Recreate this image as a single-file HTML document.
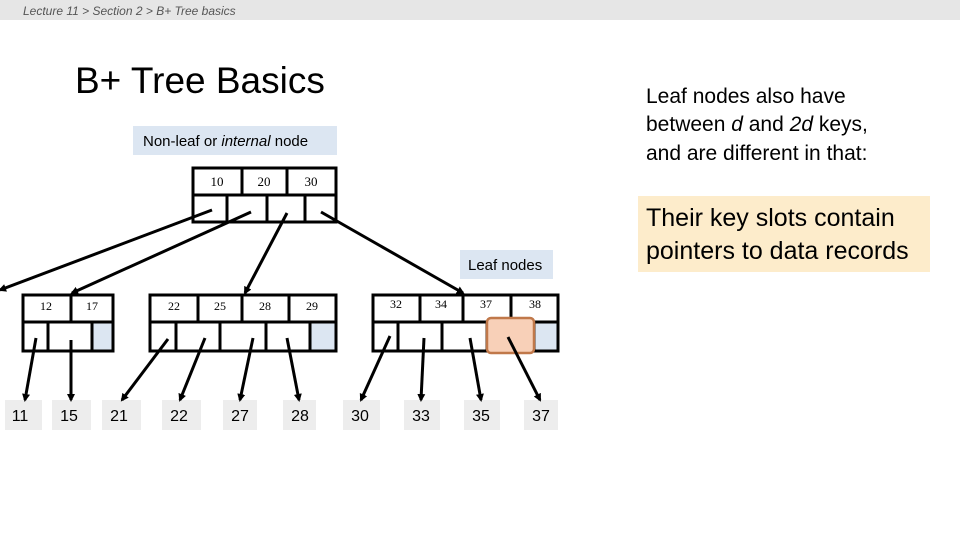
<!DOCTYPE html>
<html><head><meta charset="utf-8"><style>
body{margin:0;width:960px;height:540px;background:#fff;overflow:hidden;font-family:"Liberation Sans",sans-serif}
</style></head><body>
<svg width="960" height="540" xmlns="http://www.w3.org/2000/svg" style="position:absolute;left:0;top:0">
<defs><marker id="a" markerWidth="8" markerHeight="8" refX="6" refY="4" orient="auto" markerUnits="userSpaceOnUse"><path d="M0,0 L8,4 L0,8 z" fill="#000"/></marker></defs>
<rect x="0" y="0" width="960" height="20" fill="#e6e6e6"/>
<text x="23" y="15" font-size="12" font-style="italic" fill="#555" font-family="Liberation Sans">Lecture 11 &gt; Section 2 &gt; B+ Tree basics</text>
<text x="75" y="93" font-size="37" fill="#000">B+ Tree Basics</text>
<rect x="133" y="126" width="204" height="29" fill="#dce6f2"/>
<text x="143" y="146" font-size="15">Non-leaf or <tspan font-style="italic">internal</tspan> node</text>
<rect x="460" y="250" width="93" height="29" fill="#dce6f2"/>
<text x="468" y="270" font-size="15">Leaf nodes</text>
<text font-size="21" fill="#000"><tspan x="646" y="103">Leaf nodes also have</tspan><tspan x="646" y="131">between <tspan font-style="italic">d</tspan> and <tspan font-style="italic">2d</tspan> keys,</tspan><tspan x="646" y="160">and are different in that:</tspan></text>
<rect x="638" y="196" width="292" height="76" fill="#fdeccb"/>
<text font-size="25" fill="#000"><tspan x="646" y="226">Their key slots contain</tspan><tspan x="646" y="259">pointers to data records</tspan></text>
<g stroke="#000" stroke-width="3" fill="#fff">
<rect x="193" y="168" width="143" height="54"/>
<line x1="193" y1="195" x2="336" y2="195"/>
<line x1="242" y1="168" x2="242" y2="195"/><line x1="287" y1="168" x2="287" y2="195"/>
<line x1="227" y1="195" x2="227" y2="222"/><line x1="267" y1="195" x2="267" y2="222"/><line x1="305" y1="195" x2="305" y2="222"/>
</g>
<g font-family="Liberation Serif" font-size="13" text-anchor="middle"><text x="217" y="186">10</text><text x="264" y="186">20</text><text x="311" y="186">30</text></g>
<g stroke="#000" stroke-width="3" fill="#fff">
<rect x="23" y="295" width="90" height="56"/>
<rect x="92" y="322" width="21" height="29" fill="#dce6f2"/>
<line x1="23" y1="322" x2="113" y2="322"/><line x1="71" y1="295" x2="71" y2="322"/>
<line x1="48" y1="322" x2="48" y2="351"/>
<rect x="150" y="295" width="186" height="56"/>
<rect x="310" y="322" width="26" height="29" fill="#dce6f2"/>
<line x1="150" y1="322" x2="336" y2="322"/>
<line x1="198" y1="295" x2="198" y2="322"/><line x1="242" y1="295" x2="242" y2="322"/><line x1="289" y1="295" x2="289" y2="322"/>
<line x1="176" y1="322" x2="176" y2="351"/><line x1="220" y1="322" x2="220" y2="351"/><line x1="266" y1="322" x2="266" y2="351"/>
<rect x="373" y="295" width="185" height="56"/>
<rect x="534" y="322" width="24" height="29" fill="#dce6f2"/>
<line x1="373" y1="322" x2="558" y2="322"/>
<line x1="420" y1="295" x2="420" y2="322"/><line x1="463" y1="295" x2="463" y2="322"/><line x1="511" y1="295" x2="511" y2="322"/>
<line x1="398" y1="322" x2="398" y2="351"/><line x1="442" y1="322" x2="442" y2="351"/><line x1="487" y1="322" x2="487" y2="351"/>
</g>
<rect x="487" y="318" width="47" height="35" rx="4" fill="#f8d0b8" stroke="#c0784a" stroke-width="2.5"/>
<g font-family="Liberation Serif" font-size="12" text-anchor="middle">
<text x="46" y="310">12</text><text x="92" y="310">17</text>
<text x="174" y="310">22</text><text x="220" y="310">25</text><text x="265" y="310">28</text><text x="312" y="310">29</text>
<text x="396" y="308">32</text><text x="441" y="308">34</text><text x="486" y="308">37</text><text x="535" y="308">38</text>
</g>
<g fill="#ededed">
<rect x="5" y="400" width="37" height="30"/><rect x="52" y="400" width="39" height="30"/><rect x="102" y="400" width="39" height="30"/>
<rect x="162" y="400" width="39" height="30"/><rect x="223" y="400" width="34" height="30"/><rect x="283" y="400" width="33" height="30"/>
<rect x="343" y="400" width="37" height="30"/><rect x="404" y="400" width="36" height="30"/><rect x="464" y="400" width="36" height="30"/><rect x="524" y="400" width="34" height="30"/>
</g>
<g font-size="16" text-anchor="middle">
<text x="20" y="421">11</text><text x="69" y="421">15</text><text x="119" y="421">21</text><text x="179" y="421">22</text><text x="240" y="421">27</text><text x="300" y="421">28</text><text x="360" y="421">30</text><text x="421" y="421">33</text><text x="481" y="421">35</text><text x="541" y="421">37</text>
</g>
<g stroke="#000" stroke-width="3" marker-end="url(#a)">
<line x1="212" y1="210" x2="0" y2="290"/>
<line x1="251" y1="212" x2="72" y2="293"/>
<line x1="287" y1="213" x2="245" y2="293"/>
<line x1="321" y1="212" x2="463" y2="293"/>
<line x1="36" y1="338" x2="25" y2="400"/>
<line x1="71" y1="340" x2="71" y2="400"/>
<line x1="168" y1="339" x2="122" y2="400"/>
<line x1="205" y1="338" x2="180" y2="400"/>
<line x1="253" y1="338" x2="240" y2="400"/>
<line x1="287" y1="338" x2="299" y2="400"/>
<line x1="390" y1="336" x2="361" y2="400"/>
<line x1="424" y1="338" x2="421" y2="400"/>
<line x1="470" y1="338" x2="481" y2="400"/>
<line x1="508" y1="337" x2="540" y2="400"/>
</g>
</svg>
</body></html>
